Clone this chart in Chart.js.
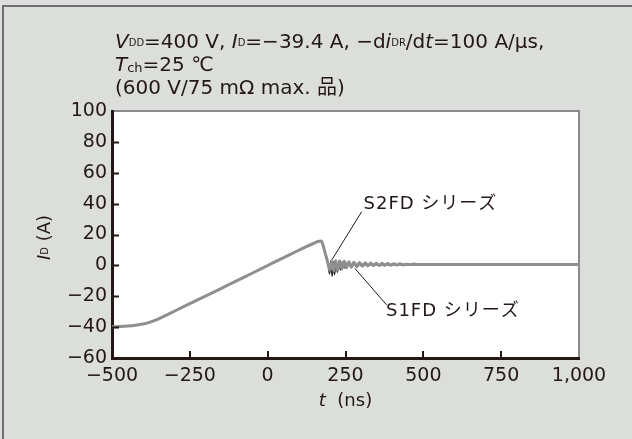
<!DOCTYPE html>
<html>
<head>
<meta charset="utf-8">
<script src="https://cdn.jsdelivr.net/npm/chart.js@4.4.1/dist/chart.umd.min.js"></script>
<style>
html, body { margin: 0; padding: 0; background: #dcdedc; overflow: hidden; }
canvas { display: block; }
</style>
</head>
<body>
<canvas id="c" width="632" height="439"></canvas>
<script>
// S1FD series (gray, drawn on top)
const tS1 = [-500,-475,-450,-425,-400,-375,-350,-325,-300,-250,-200,-150,-100,-50,0,50,100,150,165,172,
  178,186,194,200,206,212,218,225,232,239,246,253,261,269,277,286,295,304,313,322,331,340,349,358,
  367,376,385,395,405,415,425,435,445,460,470,480,600,800,1000];
const iS1 = [-39.8,-39.6,-39.3,-38.8,-38,-36.6,-34.6,-32.2,-29.7,-24.8,-19.9,-15,-10,-5.1,-0.1,4.9,9.8,14.5,15.6,15.8,
  13,7,1,-3,2.5,-3.5,3,-3,2.8,-2.2,2.6,-1.6,2.3,-1.2,2,-0.9,1.9,-0.6,1.7,-0.4,1.5,-0.2,1.4,-0.1,
  1.3,0,1.2,0.1,1.1,0.2,1,0.3,0.8,0.5,0.9,0.5,0.5,0.5,0.5];

// S2FD series (dark, sharper ringing)
const tS2 = [-500,-475,-450,-425,-400,-375,-350,-325,-300,-250,-200,-150,-100,-50,0,50,100,150,165,172,
  178,186,194,199,203,207,211,215,219,224,229,234,240,247,255,265,280,1000];
const iS2 = [-39.8,-39.6,-39.3,-38.8,-38,-36.6,-34.6,-32.2,-29.7,-24.8,-19.9,-15,-10,-5.1,-0.1,4.9,9.8,14.5,15.6,15.8,
  13,7,1,-5.5,3,-7,2.5,-6,3.5,-4.5,3,-3,2,-1.5,1.5,0.2,0.5,0.5];

const xTicks = [-500,-250,0,250,500,750,1000];
const yTicks = [-60,-40,-20,0,20,40,60,80,100];

const INK = '#231815';
const FONT = "'DejaVu Sans', 'Noto Sans CJK JP', sans-serif";

function fmt(v) {
  const s = Math.abs(v).toLocaleString('en-US');
  return v < 0 ? '\u2212' + s : s;
}

// rich text helper: segments with italic / small size / offset
function runs(ctx, segs, x, y, draw, size) {
  for (const g of segs) {
    const sz = g.sz || size;
    ctx.font = (g.it ? 'italic ' : '') + sz + 'px ' + FONT;
    if (draw) ctx.fillText(g.s, x, y + (g.dy || 0));
    x += ctx.measureText(g.s).width;
  }
  return x;
}

const titleLines = [
  [{s:'V',it:1},{s:'DD',sz:10,dy:-2},{s:'=400 V, '},{s:'I',it:1},{s:'D',sz:10,dy:-2},{s:'=\u221239.4 A, \u2212d'},
   {s:'i',it:1},{s:'DR',sz:10,dy:-2},{s:'/d'},{s:'t',it:1},{s:'=100 A/\u03bcs,'}],
  [{s:'T',it:1},{s:'ch',sz:13,dy:1},{s:'=25 \u2103'}],
  [{s:'(600 V/75 m\u03a9 max. \u54c1)'}]
];

const notes = [
  {text: 'S2FD シリーズ', tx: 308, ty: 39.5, x0: 302, y0: 34.8, x1: 206, y1: 3.5},
  {text: 'S1FD シリーズ', tx: 380, ty: -29.5, x0: 280, y0: -1.9, x1: 382, y1: -25.6}
];

const deco = {
  id: 'deco',
  beforeDraw(chart) {
    const {ctx, chartArea: a} = chart;
    ctx.save();
    // outer frame (top and left only)
    ctx.strokeStyle = '#6e6e6e';
    ctx.lineWidth = 2;
    ctx.beginPath();
    ctx.moveTo(640, 6);
    ctx.lineTo(3, 6);
    ctx.lineTo(3, 450);
    ctx.stroke();
    // plot area
    ctx.fillStyle = '#ffffff';
    ctx.fillRect(a.left, a.top, a.right - a.left, a.bottom - a.top);
    ctx.strokeStyle = '#8a8a8a';
    ctx.beginPath();
    ctx.moveTo(a.left, a.top);
    ctx.lineTo(a.right, a.top);
    ctx.lineTo(a.right, a.bottom);
    ctx.stroke();
    ctx.restore();
  },
  afterDraw(chart) {
    const {ctx, chartArea: a, scales: {x, y}} = chart;
    ctx.save();
    // inward tick marks
    ctx.strokeStyle = INK;
    ctx.lineWidth = 2;
    ctx.beginPath();
    yTicks.forEach(v => {
      if (v === -60 || v === 100) return;
      const py = Math.round(y.getPixelForValue(v)) + 0.5;
      ctx.moveTo(a.left, py); ctx.lineTo(a.left + 7, py);
    });
    xTicks.forEach(v => {
      if (v === -500 || v === 1000) return;
      const px = Math.round(x.getPixelForValue(v));
      ctx.moveTo(px, a.bottom); ctx.lineTo(px, a.bottom - 7);
    });
    ctx.stroke();

    ctx.fillStyle = INK;
    ctx.textBaseline = 'alphabetic';
    ctx.textAlign = 'left';
    // condition text
    const base = [48, 71, 94];
    titleLines.forEach((ln, k) => runs(ctx, ln, 115, base[k], true, 20));

    // y axis title
    const ySegs = [{s:'I',it:1},{s:'D',sz:10,dy:-2},{s:' (A)'}];
    const yw = runs(ctx, ySegs, 0, 0, false, 18);
    ctx.save();
    ctx.translate(50, (a.top + a.bottom) / 2 + 3);
    ctx.rotate(-Math.PI / 2);
    runs(ctx, ySegs, -yw / 2, 0, true, 18);
    ctx.restore();

    // x axis title
    const xSegs = [{s:'t',it:1},{s:'  (ns)'}];
    const xw = runs(ctx, xSegs, 0, 0, false, 18);
    runs(ctx, xSegs, (a.left + a.right) / 2 - xw / 2, 406, true, 18);

    // series annotations
    ctx.strokeStyle = INK;
    ctx.lineWidth = 1;
    notes.forEach(n => {
      ctx.beginPath();
      ctx.moveTo(x.getPixelForValue(n.x0), y.getPixelForValue(n.y0));
      ctx.lineTo(x.getPixelForValue(n.x1), y.getPixelForValue(n.y1));
      ctx.stroke();
      ctx.font = '18px ' + FONT;
      ctx.letterSpacing = '1px';
      ctx.textBaseline = 'middle';
      ctx.fillText(n.text, x.getPixelForValue(n.tx), y.getPixelForValue(n.ty));
      ctx.letterSpacing = '0px';
    });
    ctx.restore();
  }
};

const zip = (ts, vs) => ts.map((t, k) => ({x: t, y: vs[k]}));

new Chart(document.getElementById('c'), {
  type: 'line',
  data: {
    datasets: [
      {label: 'S1FD', data: zip(tS1, iS1), borderColor: '#8f8f8f', borderWidth: 3,
       pointRadius: 0, cubicInterpolationMode: 'monotone', fill: false},
      {label: 'S2FD', data: zip(tS2, iS2), borderColor: '#2b2b2b', borderWidth: 1.6,
       pointRadius: 0, cubicInterpolationMode: 'monotone', fill: false}
    ]
  },
  options: {
    responsive: false,
    animation: false,
    events: [],
    layout: {padding: {top: 111, right: 53, left: 0, bottom: 0}},
    plugins: {legend: {display: false}, tooltip: {enabled: false}},
    scales: {
      x: {
        type: 'linear', min: -500, max: 1000,
        afterBuildTicks: s => { s.ticks = xTicks.map(v => ({value: v})); },
        afterFit: s => { s.height = 81; },
        grid: {display: false, drawTicks: false},
        border: {display: true, color: INK, width: 3},
        ticks: {color: INK, font: {family: FONT, size: 19}, padding: 7,
                maxRotation: 0, autoSkip: false, callback: v => fmt(v)}
      },
      y: {
        min: -60, max: 100,
        afterBuildTicks: s => { s.ticks = yTicks.map(v => ({value: v})); },
        afterFit: s => { s.width = 112; },
        grid: {display: false, drawTicks: false},
        border: {display: true, color: INK, width: 3},
        ticks: {color: INK, font: {family: FONT, size: 19}, padding: 5,
                autoSkip: false, callback: v => fmt(v)}
      }
    }
  },
  plugins: [deco]
});
</script>
</body>
</html>
